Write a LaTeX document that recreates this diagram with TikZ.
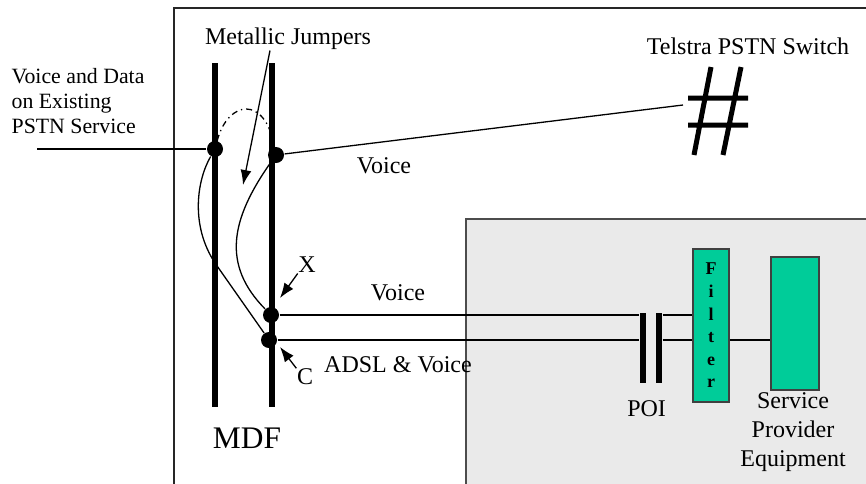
\documentclass[tikz,border=0pt]{standalone}
\usepackage{fontspec}
\setmainfont{Liberation Serif}
\usepackage{xcolor}
\definecolor{colorPanel}{HTML}{EAEAEA}
\definecolor{colorUnit}{HTML}{00CC99}
\usetikzlibrary{arrows.meta, positioning}

\begin{document}
\begin{tikzpicture}[x=0.5pt, y=-0.5pt, line width=0.65pt, >={Latex[length=7.5pt,width=5.5pt]},
  every node/.style={font=\fontsize{12}{14}\selectfont, inner sep=0pt},
  dot/.style={circle, fill=black, minimum size=8pt},
  mdfbar/.style={line width=3pt},
  poibar/.style={rectangle, fill=black, minimum width=3pt, minimum height=35pt},
  unit/.style={rectangle, draw=black!75, fill=colorUnit, line width=0.7pt}]
\useasboundingbox (0,0) rectangle (866,483);
\clip (0,0) rectangle (866,483);
% exchange and provider area
\draw[line width=1.2pt, black!85] (174,8) rectangle (890,500);
\draw[line width=0.8pt, black!70, fill=colorPanel] (466,219) rectangle (890,500);
% MDF
\draw[mdfbar] (215,63) -- (215,407);
\draw[mdfbar] (272,63) -- (272,407);
\node[font=\fontsize{15.7}{18}\selectfont] (mdf) at (247,438) {MDF};
% switch
\coordinate (switch) at (683,105);
\draw[line width=2.5pt] (688,98) -- (748,98) (688,125) -- (748,125)
  (711,67) -- (694,155) (741,67) -- (723,155);
\node (pstn) at (748,46) {Telstra PSTN Switch};
% provider side
\node[poibar] (poiA) at (643,348) {};
\node[poibar] (poiB) at (659,348) {};
\node[below=8pt of poiA.south east] (poi) {POI};
\node[unit, minimum width=18pt, minimum height=76.5pt, align=center,
  font=\fontsize{9}{11.3}\selectfont\bfseries] (filter) at (711,325.5)
  {F\\i\\l\\t\\e\\r};
\node[unit, minimum width=24pt, minimum height=66.5pt] (spe) at (795,323.5) {};
\node[align=center, font=\fontsize{12}{14.5}\selectfont] (speText) at (793,432)
  {Service\\Provider\\Equipment};
% termination points
\coordinate (src) at (37,149);
\node[dot] (inL) at (215,149) {};
\node[dot] (outR) at (276,155) {};
\node[dot] (ptX) at (271,315) {};
\node[dot] (ptC) at (269,340) {};
\draw (src) -- (inL);
\draw (outR) -- (switch);
\draw (ptX) -- (ptX -| poiA.west);
\draw (ptX -| poiB.east) -- (ptX -| filter.west);
\draw (ptC) -- (ptC -| poiA.west);
\draw (ptC -| poiB.east) -- (ptC -| filter.west);
\draw (ptC -| filter.east) -- (ptC -| spe.west);
% jumpers
\draw (inL) .. controls (197,180) and (190,225) .. (215,263) -- (ptC);
\draw (outR) .. controls (230,220) and (222,265) .. (ptX);
\draw[dash dot] (inL) .. controls (228,100) and (265,95) .. (outR);
% labels
\node[anchor=west, align=left, font=\fontsize{10.9}{12.3}\selectfont] (feed) at (11,101)
  {Voice and Data\\on Existing\\PSTN Service};
\node (jumpers) at (288,39) {Metallic Jumpers};
\coordinate (jumperTip) at (243,185);
\draw[->] ([xshift=-9pt]jumpers.south) -- (jumperTip);
\node (voiceA) at (384,166) {Voice};
\node (voiceB) at (398,293) {Voice};
\node (lblX) at (307,265) {X};
\coordinate (tipX) at (280,298);
\draw[->] (lblX.south west) -- (tipX);
\node (lblC) at (305,377) {C};
\coordinate (tipC) at (280,347);
\draw[->] (lblC.north west) -- (tipC);
\node (adsl) at (398,365) {ADSL \& Voice};
\end{tikzpicture}
\end{document}
